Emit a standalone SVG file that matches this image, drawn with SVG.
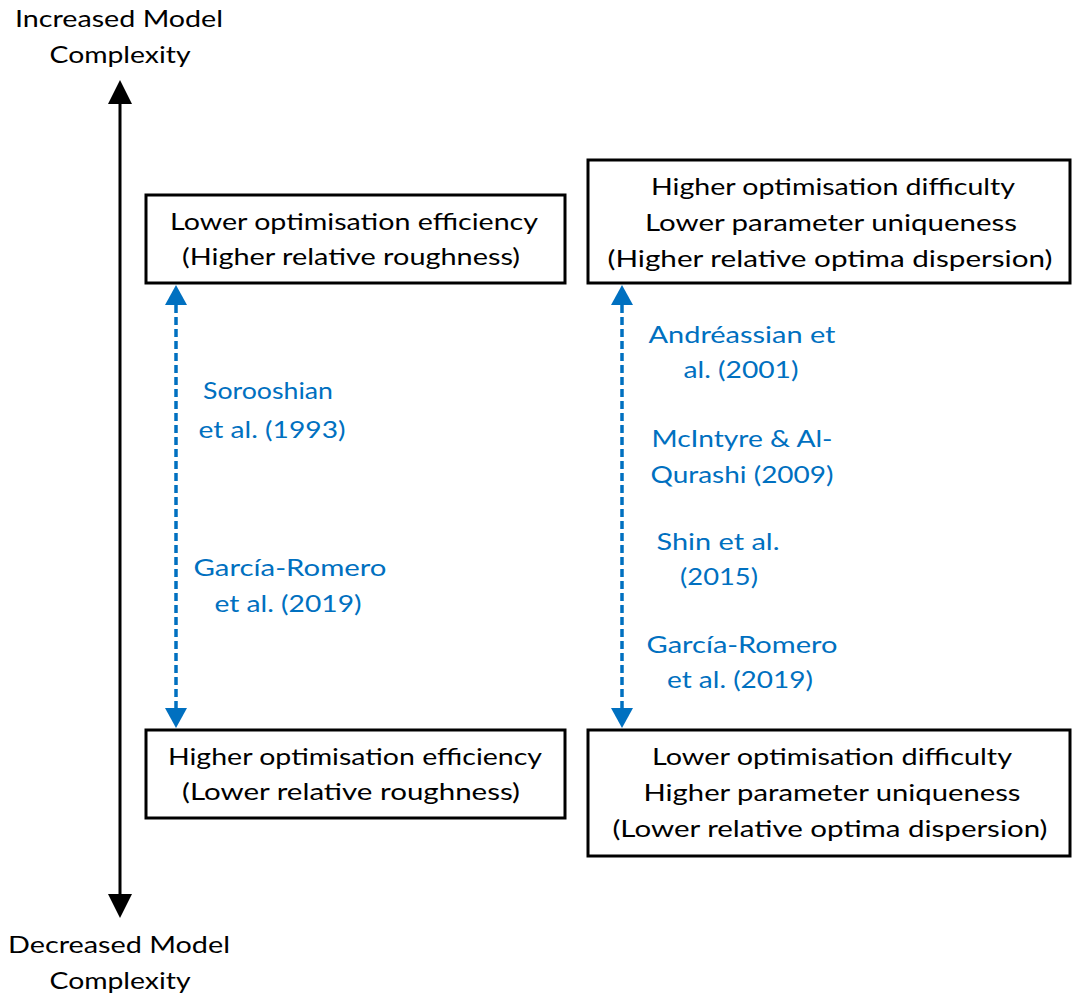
<svg xmlns="http://www.w3.org/2000/svg" width="1073" height="997" viewBox="0 0 1073 997">
<style>
text{font-family:Lato,"Liberation Sans",sans-serif;font-size:24px;text-anchor:middle}
.k{fill:#000}
.b{fill:#0070C0}
.box{fill:#fff;stroke:#000;stroke-width:3}
.axis{stroke:#000;stroke-width:3;fill:none}
.dash{stroke:#0070C0;stroke-width:3.5;stroke-dasharray:8 4;fill:none}
</style>
<defs>
<marker id="hk" markerUnits="userSpaceOnUse" viewBox="0 0 24 24" refX="0" refY="12" markerWidth="24" markerHeight="24" orient="auto-start-reverse"><path d="M0,0 L24,12 L0,24 Z" fill="#000"/></marker>
<marker id="hb" markerUnits="userSpaceOnUse" viewBox="0 0 20 22" refX="0" refY="11" markerWidth="20" markerHeight="22" orient="auto-start-reverse"><path d="M0,0 L20,11 L0,22 Z" fill="#0070C0"/></marker>
</defs>
<rect width="1073" height="997" fill="#fff"/>
<g id="connectors">
<line class="axis" x1="120" y1="104" x2="120" y2="894" marker-start="url(#hk)" marker-end="url(#hk)"/>
<line class="dash" x1="176" y1="305" x2="176" y2="708" marker-start="url(#hb)" marker-end="url(#hb)"/>
<line class="dash" x1="622" y1="305" x2="622" y2="708" marker-start="url(#hb)" marker-end="url(#hb)"/>
</g>
<g id="label-top">
<text class="k" x="119" y="27" textLength="208" lengthAdjust="spacingAndGlyphs">Increased Model</text>
<text class="k" x="120" y="63" textLength="141" lengthAdjust="spacingAndGlyphs">Complexity</text>
</g>
<g id="label-bottom">
<text class="k" x="119" y="953" textLength="222" lengthAdjust="spacingAndGlyphs">Decreased Model</text>
<text class="k" x="120" y="989" textLength="141" lengthAdjust="spacingAndGlyphs">Complexity</text>
</g>
<g id="box-lower-efficiency">
<rect class="box" x="146" y="195" width="419" height="88"/>
<text class="k" x="354" y="230" textLength="368" lengthAdjust="spacingAndGlyphs">Lower optimisation efficiency</text>
<text class="k" x="351" y="265" textLength="338" lengthAdjust="spacingAndGlyphs">(Higher relative roughness)</text>
</g>
<g id="box-higher-difficulty">
<rect class="box" x="588" y="160" width="482" height="123"/>
<text class="k" x="833" y="195" textLength="364" lengthAdjust="spacingAndGlyphs">Higher optimisation difficulty</text>
<text class="k" x="831" y="231" textLength="372" lengthAdjust="spacingAndGlyphs">Lower parameter uniqueness</text>
<text class="k" x="830" y="267" textLength="445" lengthAdjust="spacingAndGlyphs">(Higher relative optima dispersion)</text>
</g>
<g id="box-higher-efficiency">
<rect class="box" x="146" y="730" width="419" height="88"/>
<text class="k" x="355" y="765" textLength="374" lengthAdjust="spacingAndGlyphs">Higher optimisation efficiency</text>
<text class="k" x="351" y="800" textLength="338" lengthAdjust="spacingAndGlyphs">(Lower relative roughness)</text>
</g>
<g id="box-lower-difficulty">
<rect class="box" x="588" y="730" width="482" height="126"/>
<text class="k" x="832" y="765" textLength="360" lengthAdjust="spacingAndGlyphs">Lower optimisation difficulty</text>
<text class="k" x="832" y="801" textLength="377" lengthAdjust="spacingAndGlyphs">Higher parameter uniqueness</text>
<text class="k" x="830" y="837" textLength="435" lengthAdjust="spacingAndGlyphs">(Lower relative optima dispersion)</text>
</g>
<g id="refs-left">
<text class="b" x="268" y="399" textLength="130" lengthAdjust="spacingAndGlyphs">Sorooshian</text>
<text class="b" x="272" y="438" textLength="147" lengthAdjust="spacingAndGlyphs">et al. (1993)</text>
<text class="b" x="290" y="576" textLength="193" lengthAdjust="spacingAndGlyphs">García-Romero</text>
<text class="b" x="288" y="612" textLength="147" lengthAdjust="spacingAndGlyphs">et al. (2019)</text>
</g>
<g id="refs-right">
<text class="b" x="742" y="343" textLength="187" lengthAdjust="spacingAndGlyphs">Andréassian et</text>
<text class="b" x="741" y="378" textLength="115" lengthAdjust="spacingAndGlyphs">al. (2001)</text>
<text class="b" x="742" y="447" textLength="181" lengthAdjust="spacingAndGlyphs">McIntyre &amp; Al-</text>
<text class="b" x="742" y="483" textLength="183" lengthAdjust="spacingAndGlyphs">Qurashi (2009)</text>
<text class="b" x="718" y="550" textLength="123" lengthAdjust="spacingAndGlyphs">Shin et al.</text>
<text class="b" x="719" y="585" textLength="78" lengthAdjust="spacingAndGlyphs">(2015)</text>
<text class="b" x="742" y="653" textLength="191" lengthAdjust="spacingAndGlyphs">García-Romero</text>
<text class="b" x="740" y="688" textLength="146" lengthAdjust="spacingAndGlyphs">et al. (2019)</text>
</g>
</svg>
